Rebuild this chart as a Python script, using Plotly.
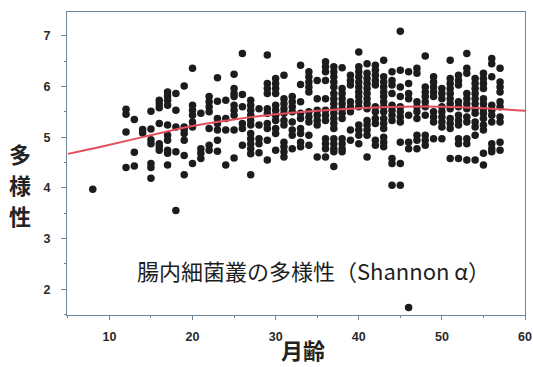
import plotly.graph_objects as go

# ---- data ----
months = [8, 12, 13, 14, 15, 16, 17, 18, 19, 20, 21, 22, 23, 24, 25, 26, 27, 28, 29, 30,
          31, 32, 33, 34, 35, 36, 37, 38, 39, 40, 41, 42, 43, 44, 45, 46, 47, 48, 49, 50,
          51, 52, 53, 54, 55, 56, 57]

shannon_by_month = [
    [3.97],
    [5.55, 5.45, 5.1, 4.4],
    [5.35, 4.7, 4.43],
    [5.15, 5.08],
    [5.51, 5.16, 4.95, 4.87, 4.48, 4.4, 4.19],
    [5.73, 5.66, 5.58, 5.27, 4.87, 4.81, 4.74],
    [5.89, 5.81, 5.73, 5.63, 5.24, 5.04, 4.94, 4.74, 4.68, 4.45],
    [5.86, 5.53, 5.2, 4.71, 3.55],
    [6.01, 5.2, 5.15, 5.07, 4.94, 4.64, 4.26],
    [6.36, 5.63, 5.53, 5.43, 5.3, 5.2, 4.48],
    [5.47, 4.77, 4.68, 4.58],
    [5.8, 5.7, 5.6, 5.5, 5.17, 4.84, 4.74],
    [6.17, 5.71, 5.37, 5.27, 5.14, 4.94, 4.72],
    [5.73, 5.37, 5.14, 4.45],
    [6.24, 5.96, 5.86, 5.8, 5.63, 5.53, 5.43, 5.14, 4.59],
    [6.65, 5.84, 5.6, 5.27, 5.17, 4.84],
    [5.73, 5.63, 5.53, 5.43, 5.33, 5.24, 5.07, 4.97, 4.87, 4.77, 4.67, 4.26],
    [5.56, 5.24, 4.97, 4.87, 4.69],
    [6.62, 6.06, 5.96, 5.86, 5.56, 5.47, 5.27, 5.17, 4.94, 4.55],
    [6.16, 6.06, 5.96, 5.86, 5.63, 5.53, 5.43, 5.33, 5.17, 5.07, 4.74],
    [6.22, 5.76, 5.66, 5.56, 5.47, 5.33, 5.24, 4.9, 4.81, 4.71, 4.61],
    [5.8, 5.7, 5.6, 5.5, 5.3, 5.14, 5.04, 4.77],
    [6.42, 6.04, 5.7, 5.47, 5.37, 5.17, 5.07, 4.9, 4.81],
    [6.29, 6.19, 6.09, 5.99, 5.89, 5.5, 5.4, 5.3, 5.04, 4.84],
    [6.12, 5.76, 5.53, 5.43, 5.33, 5.24, 4.61],
    [6.49, 6.39, 6.29, 6.12, 5.76, 5.53, 5.43, 5.33, 4.97, 4.87, 4.77, 4.61],
    [6.39, 6.29, 6.19, 6.09, 5.99, 5.86, 5.76, 5.66, 5.56, 5.47, 5.37, 5.27, 5.17, 4.97, 4.87, 4.77, 4.71, 4.42],
    [6.37, 5.96, 5.86, 5.76, 5.66, 5.56, 5.47, 5.37, 4.97, 4.87, 4.77, 4.71],
    [6.22, 6.12, 6.03, 5.7, 5.6, 5.5, 5.14, 4.94],
    [6.68, 6.39, 6.29, 6.19, 6.09, 5.99, 5.89, 5.8, 5.7, 5.6, 5.24, 5.14, 5.04, 4.87],
    [6.45, 6.26, 6.16, 6.06, 5.96, 5.86, 5.76, 5.66, 5.56, 5.33, 5.24, 5.14, 5.04, 4.61],
    [6.42, 6.32, 6.22, 6.12, 6.03, 5.6, 5.5, 5.37, 5.27, 4.94, 4.84],
    [6.52, 6.19, 6.09, 5.99, 5.89, 5.8, 5.7, 5.6, 5.5, 5.37, 5.27, 5.17, 5.0, 4.9, 4.81],
    [6.29, 6.12, 6.03, 5.86, 5.63, 5.53, 5.43, 5.33, 4.58, 4.48, 4.05],
    [7.09, 6.32, 5.99, 5.8, 5.6, 5.5, 5.4, 5.3, 4.9, 4.48, 4.05],
    [6.29, 6.06, 5.86, 5.76, 5.43, 4.9, 4.77, 1.64],
    [6.36, 6.26, 5.7, 5.6, 5.5, 5.37, 5.04, 4.94, 4.77],
    [6.6, 5.99, 5.89, 5.8, 5.7, 5.6, 5.43, 5.04, 4.94, 4.84],
    [6.19, 6.09, 5.99, 5.89, 5.8, 5.5, 5.4, 5.3, 4.97],
    [5.96, 5.86, 5.76, 5.6, 5.5, 5.4, 5.3, 5.2, 4.97],
    [6.52, 6.16, 6.06, 5.96, 5.86, 5.76, 5.66, 5.56, 5.37, 5.27, 5.17, 4.58],
    [6.22, 6.12, 6.03, 5.7, 5.6, 5.43, 5.33, 5.24, 4.97, 4.87, 4.58],
    [6.65, 6.36, 6.26, 5.86, 5.76, 5.66, 5.56, 5.4, 5.3, 4.97, 4.87, 4.55],
    [6.16, 6.06, 5.96, 5.86, 5.76, 5.66, 5.56, 5.47, 5.3, 5.2, 5.04, 4.55],
    [6.26, 6.16, 6.06, 5.96, 5.76, 5.66, 5.56, 5.47, 5.37, 5.24, 5.14, 4.68, 4.45],
    [6.55, 6.45, 6.19, 5.63, 5.53, 5.43, 5.3, 4.87, 4.77, 4.71],
    [6.36, 6.09, 5.99, 5.89, 5.7, 5.6, 5.4, 5.3, 4.9, 4.74],
]

fit_x = [5, 9, 14, 20, 25, 30, 35, 40, 45, 50, 55, 60]
fit_y = [4.67, 4.81, 5.0, 5.22, 5.35, 5.45, 5.52, 5.57, 5.6, 5.6, 5.57, 5.52]

x_ticks = [10, 20, 30, 40, 50, 60]
y_ticks = [2, 3, 4, 5, 6, 7]

y_title_chars = ["多", "様", "性"]
x_title = "月齢"
note_text = "腸内細菌叢の多様性（Shannon α）"

# ---- build ----
px_x, px_y = [], []
for m, vals in zip(months, shannon_by_month):
    for v in vals:
        px_x.append(m)
        px_y.append(v)

fig = go.Figure()
fig.add_trace(go.Scatter(x=px_x, y=px_y, mode="markers",
                         marker=dict(size=7.5, color="#1c1c1e"),
                         showlegend=False, hoverinfo="skip"))
fig.add_trace(go.Scatter(x=fit_x, y=fit_y, mode="lines",
                         line=dict(color="#e2505c", width=2, shape="spline"),
                         showlegend=False, hoverinfo="skip"))

axis_col = "#6a8498"
tick_font = dict(family="Liberation Sans", size=12.5, color="#2a2a2a", weight="bold")

L, R, T, B = 67, 8, 12, 52
W, H = 533, 367
pw, ph = W - L - R, H - T - B

def px2paper_x(px):
    return (px - L) / pw

def px2paper_y(py):
    return (H - B - py) / ph

annotations = [
    dict(text=note_text, xref="paper", yref="paper",
         x=px2paper_x(313), y=px2paper_y(270), showarrow=False,
         xanchor="center", yanchor="middle",
         font=dict(family="Noto Sans CJK JP", size=22, color="#1e1e1e")),
    dict(text=x_title, xref="paper", yref="paper",
         x=px2paper_x(303), y=px2paper_y(349), showarrow=False,
         xanchor="center", yanchor="middle",
         font=dict(family="Noto Sans CJK JP", size=22, color="#222222", weight="bold")),
]
for ch, cy in zip(y_title_chars, [153, 184, 215]):
    annotations.append(dict(text=ch, xref="paper", yref="paper",
                            x=px2paper_x(20), y=px2paper_y(cy), showarrow=False,
                            xanchor="center", yanchor="middle",
                            font=dict(family="Noto Sans CJK JP", size=22,
                                      color="#222222", weight="bold")))

fig.update_layout(
    width=W, height=H,
    margin=dict(l=L, r=R, t=T, b=B, autoexpand=False),
    paper_bgcolor="white", plot_bgcolor="white",
    xaxis=dict(range=[4.9, 60], tickvals=x_ticks, ticks="outside", ticklen=4,
               tickcolor=axis_col, showline=True, linecolor=axis_col, linewidth=1,
               mirror=True, showgrid=False, zeroline=False, tickfont=tick_font,
               minor=dict(dtick=5, tick0=0, ticks="outside", ticklen=2, tickcolor=axis_col),
               ticklabelstandoff=6, automargin=False),
    yaxis=dict(range=[1.49, 7.47], tickvals=y_ticks, ticks="outside", ticklen=5,
               tickcolor=axis_col, showline=True, linecolor=axis_col, linewidth=1,
               mirror=True, showgrid=False, zeroline=False, tickfont=tick_font,
               minor=dict(dtick=0.5, tick0=0, ticks="outside", ticklen=2, tickcolor=axis_col),
               ticklabelstandoff=8, automargin=False),
    annotations=annotations,
)

fig.write_html("out.html", config={"displayModeBar": False},
               post_script="document.body.style.margin='0';")
